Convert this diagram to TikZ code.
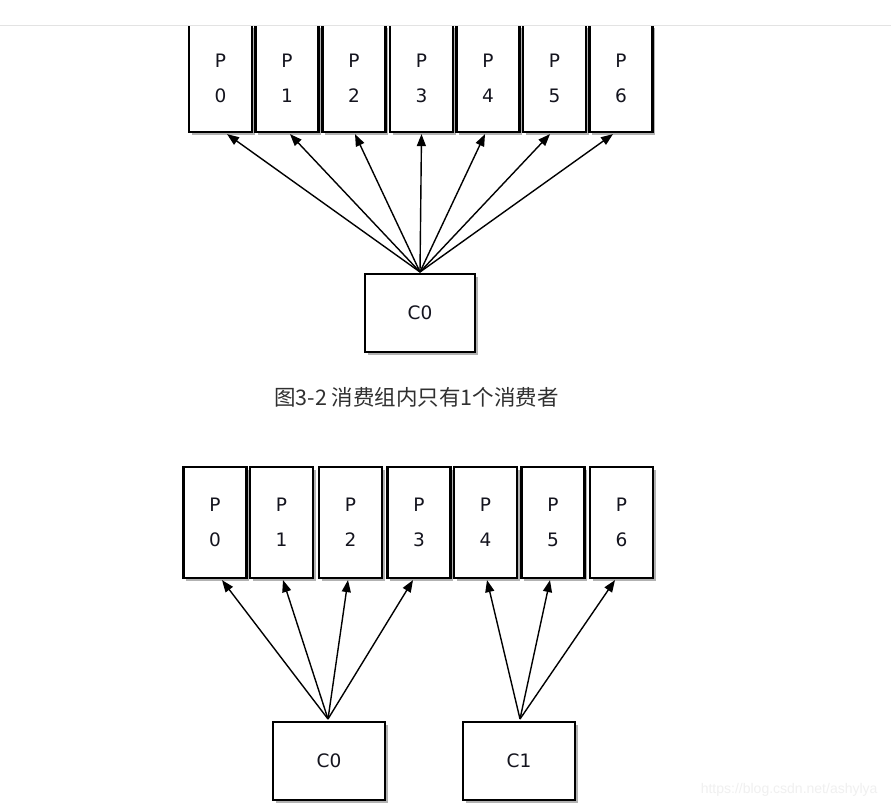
\documentclass[tikz,border=0pt]{standalone}
\usepackage{fontspec}
\setmainfont{DejaVu Sans}
\newfontfamily\cjkfont{Noto Sans CJK SC}
\newfontfamily\wmfont{Liberation Sans}
\usetikzlibrary{arrows.meta,shadows,calc}
\definecolor{txt}{HTML}{14141E}
\definecolor{captxt}{HTML}{303030}
\begin{document}
\begin{tikzpicture}[x=1pt,y=-1pt,
  box/.style={draw=black, line width=2.2pt, fill=white, inner sep=0pt,
    text=txt, font=\fontsize{18.5}{22}\selectfont, align=center,
    drop shadow={shadow xshift=2.5pt, shadow yshift=-3pt, opacity=0.3, fill=black}},
  pbox/.style={box, minimum width=63pt, minimum height=107pt},
  qbox/.style={box, minimum width=63pt, minimum height=111pt},
  cbox/.style={box, minimum width=110pt, minimum height=78pt},
  arr/.style={line width=1.4pt, -{Triangle[length=12pt,width=9pt]}},
]
\path[fill=white, use as bounding box] (0,0) rectangle (891,808);

% ---- top diagram ----
\foreach \n/\cx in {0/220.5,1/287,2/354,3/421.5,4/488,5/554.5,6/621}{
  \node[pbox] (tp\n) at (\cx,78.5) {P\\[13pt]\n};
}
\fill[white] (0,0) rectangle (891,26);
\draw[line width=1pt, gray!22] (0,25.5) -- (891,25.5);

\node[cbox] (tc0) at (420,313) {C0};
\coordinate (to) at (420,272);
\foreach \n/\dx in {0/6.5,1/3,2/1,3/0,4/-3,5/-4.5,6/-8}{
  \draw[arr] (to) -- ($(tp\n.south)+(\dx,1)$);
}

\node[text=captxt, font=\cjkfont\fontsize{21.5}{24}\selectfont] (cap) at (416.5,397) {图3-2 消费组内只有1个消费者};

% ---- bottom diagram ----
\foreach \n/\cx in {0/215,1/281.5,2/350.5,3/419,4/485.5,5/553,6/621.5}{
  \node[qbox] (bp\n) at (\cx,522.5) {P\\[13pt]\n};
}
\node[cbox, minimum width=112pt] (bc0) at (329,761) {C0};
\node[cbox, minimum width=112pt] (bc1) at (519,761) {C1};
\coordinate (bo0) at (328,719);
\coordinate (bo1) at (520,719);
\foreach \n/\dx in {0/7,1/1.5,2/-2.5,3/-6}{
  \draw[arr] (bo0) -- ($(bp\n.south)+(\dx,1)$);
}
\foreach \n/\dx in {4/1.5,5/-3,6/-6.5}{
  \draw[arr] (bo1) -- ($(bp\n.south)+(\dx,1)$);
}

\node[anchor=east, text=gray!12, font=\wmfont\fontsize{14}{16}\selectfont] (wm) at (881,790) {https://blog.csdn.net/ashylya};
\end{tikzpicture}
\end{document}
